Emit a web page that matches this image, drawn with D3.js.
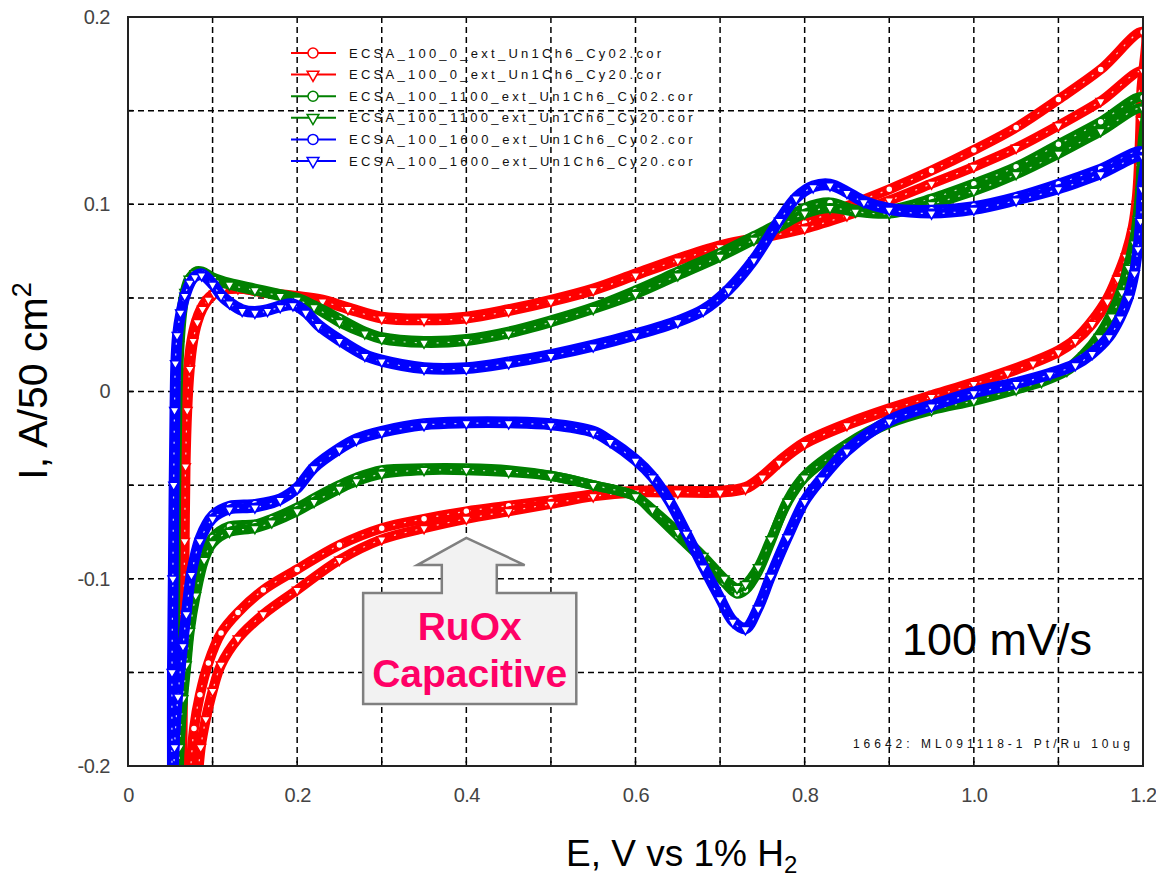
<!DOCTYPE html>
<html><head><meta charset="utf-8">
<script src="https://cdn.jsdelivr.net/npm/d3@7"></script>
<style>body{margin:0;background:#fff} text{font-family:Arial,"Liberation Sans",sans-serif}</style>
</head><body><svg id="c" width="1156" height="881"></svg>
<script>
// ---------- DATA ----------
const xTicks=[0,0.2,0.4,0.6,0.8,1.0,1.2];
const xTickLabels=["0","0.2","0.4","0.6","0.8","1.0","1.2"];
const yTicks=[0.2,0.1,0,-0.1,-0.2];
const yTickLabels=["0.2","0.1","0","-0.1","-0.2"];
const xGrid=[0.1,0.2,0.3,0.4,0.5,0.6,0.7,0.8,0.9,1.0,1.1];
const yGrid=[0.15,0.1,0.05,0,-0.05,-0.1,-0.15];
const seriesNames=["ECSA_100_0_ext_Un1Ch6_Cy02.cor","ECSA_100_0_ext_Un1Ch6_Cy20.cor",
 "ECSA_100_1100_ext_Un1Ch6_Cy02.cor","ECSA_100_1100_ext_Un1Ch6_Cy20.cor",
 "ECSA_100_1600_ext_Un1Ch6_Cy02.cor","ECSA_100_1600_ext_Un1Ch6_Cy20.cor"];
const seriesColors=["#ff0000","#ff0000","#008000","#008000","#0000ff","#0000ff"];
const seriesMarkers=["circle","triangle","circle","triangle","circle","triangle"];

// [E (V), I (A/50 cm2)] anodic sweep followed by cathodic sweep
const red0Cy02=[[0.062,-0.21],[0.063,-0.16],[0.064,-0.12],[0.065,-0.08],[0.066,-0.04],[0.068,-0.01],[0.071,0.012],[0.075,0.027],[0.08,0.037],[0.086,0.044],[0.093,0.049],[0.1,0.052],[0.11,0.054],[0.13,0.055],[0.16,0.053],[0.2,0.051],[0.23,0.049],[0.26,0.045],[0.3,0.04],[0.35,0.039],[0.4,0.04],[0.45,0.044],[0.5,0.049],[0.55,0.055],[0.6,0.063],[0.65,0.071],[0.7,0.078],[0.75,0.083],[0.8,0.09],[0.85,0.099],[0.9,0.108],[0.95,0.118],[1.0,0.129],[1.05,0.141],[1.1,0.156],[1.15,0.172],[1.2,0.192],
 [1.198,0.16],[1.196,0.13],[1.193,0.105],[1.188,0.088],[1.18,0.074],[1.17,0.062],[1.158,0.05],[1.14,0.038],[1.12,0.028],[1.1,0.022],[1.07,0.016],[1.04,0.011],[1.0,0.005],[0.95,-0.002],[0.9,-0.009],[0.85,-0.017],[0.8,-0.027],[0.77,-0.037],[0.75,-0.045],[0.73,-0.051],[0.7,-0.053],[0.65,-0.053],[0.6,-0.053],[0.55,-0.055],[0.5,-0.058],[0.45,-0.061],[0.4,-0.064],[0.35,-0.068],[0.3,-0.073],[0.25,-0.082],[0.2,-0.095],[0.16,-0.106],[0.13,-0.118],[0.11,-0.129],[0.095,-0.145],[0.085,-0.162],[0.078,-0.18],[0.073,-0.21]];
const red0Cy20=[[0.064,-0.21],[0.065,-0.16],[0.066,-0.12],[0.067,-0.08],[0.068,-0.04],[0.07,-0.01],[0.073,0.012],[0.077,0.027],[0.082,0.037],[0.088,0.044],[0.095,0.049],[0.102,0.052],[0.112,0.054],[0.13,0.055],[0.16,0.053],[0.2,0.05],[0.23,0.048],[0.26,0.044],[0.3,0.039],[0.35,0.038],[0.4,0.039],[0.45,0.043],[0.5,0.048],[0.55,0.054],[0.6,0.062],[0.65,0.07],[0.7,0.077],[0.75,0.082],[0.8,0.087],[0.85,0.094],[0.9,0.102],[0.95,0.111],[1.0,0.12],[1.05,0.13],[1.1,0.142],[1.15,0.155],[1.2,0.171],
 [1.198,0.145],[1.196,0.12],[1.193,0.1],[1.188,0.085],[1.18,0.072],[1.17,0.06],[1.158,0.048],[1.14,0.036],[1.12,0.027],[1.1,0.021],[1.07,0.015],[1.04,0.01],[1.0,0.004],[0.95,-0.003],[0.9,-0.01],[0.85,-0.018],[0.8,-0.028],[0.77,-0.038],[0.75,-0.046],[0.73,-0.052],[0.7,-0.054],[0.65,-0.054],[0.6,-0.054],[0.55,-0.056],[0.5,-0.06],[0.45,-0.064],[0.4,-0.068],[0.35,-0.073],[0.3,-0.079],[0.25,-0.09],[0.2,-0.106],[0.16,-0.119],[0.13,-0.132],[0.11,-0.146],[0.1,-0.16],[0.092,-0.175],[0.086,-0.19],[0.082,-0.21]];
const g1100Cy02=[[0.055,-0.21],[0.055,-0.15],[0.056,-0.1],[0.057,-0.05],[0.058,-0.02],[0.059,0.005],[0.061,0.025],[0.064,0.042],[0.068,0.053],[0.073,0.06],[0.08,0.064],[0.088,0.064],[0.1,0.061],[0.12,0.058],[0.15,0.055],[0.18,0.052],[0.2,0.05],[0.22,0.046],[0.25,0.039],[0.28,0.032],[0.3,0.029],[0.35,0.027],[0.4,0.028],[0.45,0.032],[0.5,0.038],[0.55,0.045],[0.6,0.054],[0.65,0.064],[0.7,0.074],[0.74,0.083],[0.77,0.09],[0.8,0.098],[0.83,0.101],[0.86,0.097],[0.9,0.097],[0.95,0.103],[1.0,0.111],[1.05,0.12],[1.1,0.132],[1.15,0.144],[1.2,0.157],
 [1.199,0.13],[1.197,0.11],[1.194,0.095],[1.19,0.082],[1.183,0.068],[1.175,0.055],[1.163,0.042],[1.148,0.03],[1.13,0.02],[1.11,0.012],[1.08,0.006],[1.05,0.002],[1.0,-0.004],[0.95,-0.009],[0.9,-0.016],[0.85,-0.028],[0.8,-0.045],[0.78,-0.058],[0.76,-0.08],[0.745,-0.096],[0.73,-0.106],[0.72,-0.108],[0.705,-0.102],[0.68,-0.09],[0.65,-0.077],[0.62,-0.064],[0.6,-0.056],[0.55,-0.05],[0.5,-0.045],[0.45,-0.042],[0.4,-0.041],[0.35,-0.041],[0.3,-0.042],[0.27,-0.046],[0.25,-0.05],[0.22,-0.057],[0.2,-0.062],[0.17,-0.068],[0.15,-0.071],[0.12,-0.072],[0.1,-0.078],[0.09,-0.087],[0.08,-0.106],[0.073,-0.125],[0.069,-0.143],[0.065,-0.161],[0.061,-0.188],[0.059,-0.21]];
const g1100Cy20=[[0.054,-0.21],[0.054,-0.15],[0.055,-0.1],[0.056,-0.05],[0.057,-0.02],[0.058,0.005],[0.06,0.025],[0.063,0.042],[0.067,0.053],[0.072,0.06],[0.079,0.063],[0.087,0.063],[0.1,0.06],[0.12,0.057],[0.15,0.054],[0.18,0.051],[0.2,0.049],[0.22,0.045],[0.25,0.037],[0.28,0.031],[0.3,0.028],[0.35,0.026],[0.4,0.027],[0.45,0.031],[0.5,0.037],[0.55,0.044],[0.6,0.052],[0.65,0.062],[0.7,0.072],[0.74,0.081],[0.77,0.088],[0.8,0.095],[0.83,0.098],[0.86,0.096],[0.9,0.095],[0.95,0.1],[1.0,0.107],[1.05,0.116],[1.1,0.127],[1.15,0.139],[1.2,0.151],
 [1.199,0.125],[1.197,0.106],[1.194,0.092],[1.19,0.079],[1.183,0.066],[1.175,0.053],[1.163,0.04],[1.148,0.029],[1.13,0.019],[1.11,0.011],[1.08,0.005],[1.05,0.001],[1.0,-0.005],[0.95,-0.01],[0.9,-0.017],[0.85,-0.029],[0.8,-0.046],[0.78,-0.059],[0.76,-0.079],[0.745,-0.094],[0.73,-0.103],[0.72,-0.105],[0.705,-0.1],[0.68,-0.088],[0.65,-0.075],[0.62,-0.063],[0.6,-0.056],[0.55,-0.05],[0.5,-0.045],[0.45,-0.043],[0.4,-0.042],[0.35,-0.042],[0.3,-0.044],[0.27,-0.048],[0.25,-0.052],[0.22,-0.059],[0.2,-0.064],[0.17,-0.07],[0.15,-0.073],[0.12,-0.075],[0.1,-0.081],[0.09,-0.09],[0.08,-0.109],[0.073,-0.128],[0.069,-0.146],[0.065,-0.164],[0.061,-0.19],[0.06,-0.21]];
const b1600Cy02=[[0.053,-0.21],[0.053,-0.15],[0.054,-0.1],[0.055,-0.05],[0.056,-0.01],[0.057,0.015],[0.059,0.03],[0.063,0.042],[0.068,0.051],[0.074,0.058],[0.08,0.062],[0.088,0.063],[0.1,0.058],[0.11,0.052],[0.12,0.048],[0.135,0.044],[0.15,0.043],[0.165,0.044],[0.18,0.046],[0.195,0.047],[0.21,0.043],[0.225,0.036],[0.25,0.028],[0.28,0.02],[0.3,0.017],[0.35,0.013],[0.4,0.013],[0.45,0.016],[0.5,0.02],[0.55,0.025],[0.6,0.031],[0.65,0.038],[0.68,0.044],[0.71,0.055],[0.74,0.071],[0.77,0.092],[0.79,0.104],[0.81,0.11],[0.83,0.111],[0.85,0.107],[0.87,0.102],[0.9,0.098],[0.95,0.097],[1.0,0.099],[1.05,0.104],[1.1,0.111],[1.15,0.119],[1.2,0.128],
 [1.199,0.11],[1.197,0.093],[1.194,0.078],[1.19,0.065],[1.183,0.052],[1.173,0.04],[1.16,0.03],[1.14,0.021],[1.12,0.015],[1.09,0.01],[1.05,0.005],[1.0,0.0],[0.95,-0.007],[0.9,-0.015],[0.85,-0.031],[0.82,-0.046],[0.8,-0.058],[0.78,-0.077],[0.76,-0.098],[0.745,-0.115],[0.73,-0.126],[0.715,-0.122],[0.7,-0.11],[0.68,-0.093],[0.66,-0.075],[0.64,-0.058],[0.62,-0.045],[0.6,-0.036],[0.57,-0.026],[0.55,-0.021],[0.5,-0.017],[0.45,-0.016],[0.4,-0.016],[0.35,-0.017],[0.3,-0.021],[0.27,-0.025],[0.25,-0.03],[0.22,-0.04],[0.2,-0.051],[0.18,-0.057],[0.15,-0.06],[0.12,-0.061],[0.1,-0.066],[0.085,-0.078],[0.075,-0.096],[0.069,-0.117],[0.065,-0.134],[0.059,-0.161],[0.055,-0.188],[0.054,-0.21]];
const b1600Cy20=[[0.052,-0.21],[0.052,-0.15],[0.053,-0.1],[0.054,-0.05],[0.055,-0.01],[0.056,0.015],[0.058,0.03],[0.062,0.042],[0.067,0.051],[0.073,0.058],[0.079,0.061],[0.087,0.062],[0.1,0.057],[0.11,0.051],[0.12,0.047],[0.135,0.043],[0.15,0.042],[0.165,0.043],[0.18,0.045],[0.195,0.046],[0.21,0.042],[0.225,0.035],[0.25,0.027],[0.28,0.019],[0.3,0.016],[0.35,0.012],[0.4,0.012],[0.45,0.015],[0.5,0.019],[0.55,0.024],[0.6,0.03],[0.65,0.037],[0.68,0.043],[0.71,0.054],[0.74,0.07],[0.77,0.091],[0.79,0.103],[0.81,0.109],[0.83,0.11],[0.85,0.106],[0.87,0.101],[0.9,0.097],[0.95,0.095],[1.0,0.097],[1.05,0.102],[1.1,0.108],[1.15,0.116],[1.2,0.125],
 [1.199,0.108],[1.197,0.091],[1.194,0.076],[1.19,0.063],[1.183,0.05],[1.173,0.039],[1.16,0.029],[1.14,0.02],[1.12,0.014],[1.09,0.009],[1.05,0.004],[1.0,-0.001],[0.95,-0.008],[0.9,-0.016],[0.85,-0.032],[0.82,-0.047],[0.8,-0.059],[0.78,-0.078],[0.76,-0.099],[0.745,-0.116],[0.73,-0.127],[0.715,-0.123],[0.7,-0.111],[0.68,-0.094],[0.66,-0.076],[0.64,-0.059],[0.62,-0.046],[0.6,-0.037],[0.57,-0.027],[0.55,-0.022],[0.5,-0.018],[0.45,-0.017],[0.4,-0.017],[0.35,-0.018],[0.3,-0.022],[0.27,-0.026],[0.25,-0.031],[0.22,-0.041],[0.2,-0.052],[0.18,-0.058],[0.15,-0.062],[0.12,-0.063],[0.1,-0.068],[0.085,-0.08],[0.075,-0.098],[0.069,-0.119],[0.065,-0.136],[0.059,-0.163],[0.055,-0.19],[0.054,-0.21]];
const seriesData=[red0Cy02,red0Cy20,g1100Cy02,g1100Cy20,b1600Cy02,b1600Cy20];

// annotations (data units)
const calloutBoxE=[0.278,0.530], calloutBoxI=[-0.1076,-0.1669];
const calloutStemE=[0.371,0.436], calloutHeadE=[0.342,0.469], calloutHeadI=-0.0927, calloutTip=[0.4,-0.0782];
const calloutLines=["RuOx","Capacitive"];
const rateLabel="100 mV/s", rateAt=[0.915,-0.1407];
const sampleLabel="16642: ML091118-1  Pt/Ru 10ug", sampleAt=[0.857,-0.1904];

// ---------- DRAW ----------
const svg=d3.select("#c");
const L=128,R=1143,T=17,B=766;
const x=d3.scaleLinear().domain([0,1.2]).range([L,R]);
const y=d3.scaleLinear().domain([-0.2,0.2]).range([B,T]);

svg.append("defs").append("clipPath").attr("id","clip").append("rect")
  .attr("x",L).attr("y",T).attr("width",R-L).attr("height",B-T);

const grid=svg.append("g").attr("stroke","#000").attr("stroke-width",1.5).attr("stroke-dasharray","6,4");
grid.selectAll(".vx").data(xGrid).join("line").attr("x1",d=>x(d)).attr("x2",d=>x(d)).attr("y1",T).attr("y2",B);
grid.selectAll(".hy").data(yGrid).join("line").attr("y1",d=>y(d)).attr("y2",d=>y(d)).attr("x1",L).attr("x2",R);

// axes (d3 axes, styled)
const xAxis=svg.append("g").attr("transform",`translate(0,${B})`)
  .call(d3.axisBottom(x).tickValues(xTicks).tickFormat((d,i)=>xTickLabels[i]).tickSize(0).tickPadding(22));
const yAxis=svg.append("g").attr("transform",`translate(${L},0)`)
  .call(d3.axisLeft(y).tickValues(yTicks).tickFormat((d,i)=>yTickLabels[i]).tickSize(0).tickPadding(18));
[xAxis,yAxis].forEach(a=>{a.select(".domain").remove();a.selectAll("text").attr("font-size",20).attr("letter-spacing",-0.5).attr("fill","#444").attr("font-family","Arial, Liberation Sans, sans-serif");});

// inward small ticks
const tk=svg.append("g").attr("stroke","#000").attr("stroke-width",1.5);
tk.selectAll(".t").data(yGrid).join("line").attr("x1",L).attr("x2",L+5).attr("y1",d=>y(d)).attr("y2",d=>y(d));
tk.selectAll(".tb").data(xGrid).join("line").attr("y1",B).attr("y2",B-5).attr("x1",d=>x(d)).attr("x2",d=>x(d));

// series
const plot=svg.append("g").attr("clip-path","url(#clip)");
const line=d3.line().x(d=>x(d[0])).y(d=>y(d[1])).curve(d3.curveCatmullRom.alpha(0.5));
const tri=d3.symbol().type(d3.symbolTriangle).size(40);
seriesData.forEach((data,i)=>{
  const c=seriesColors[i];
  const g=plot.append("g");
  g.append("path").attr("d",line(data)).attr("fill","none").attr("stroke",c).attr("stroke-width",10).attr("stroke-linejoin","round");
  g.append("path").attr("d",line(data)).attr("fill","none").attr("stroke","#fff").attr("stroke-width",1.2).attr("stroke-dasharray","2,9").attr("opacity",0.8);
  if(seriesMarkers[i]==="circle"){
    g.selectAll("circle").data(data).join("circle").attr("cx",d=>x(d[0])).attr("cy",d=>y(d[1])).attr("r",3.5)
      .attr("fill","#fff").attr("stroke",c).attr("stroke-width",1.5);
  } else {
    g.selectAll("path.m").data(data).join("path").attr("class","m").attr("d",tri)
      .attr("transform",d=>`translate(${x(d[0])},${y(d[1])}) rotate(180)`)
      .attr("fill","#fff").attr("stroke",c).attr("stroke-width",1.5);
  }
});

// frame
svg.append("rect").attr("x",L).attr("y",T).attr("width",R-L).attr("height",B-T)
  .attr("fill","none").attr("stroke","#222").attr("stroke-width",2);

// legend
const lg=svg.append("g");
seriesNames.forEach((n,i)=>{
  const yy=53+i*21.6, c=seriesColors[i];
  lg.append("line").attr("x1",291).attr("x2",336).attr("y1",yy).attr("y2",yy).attr("stroke",c).attr("stroke-width",2);
  if(seriesMarkers[i]==="circle") lg.append("circle").attr("cx",313).attr("cy",yy).attr("r",5).attr("fill","#fff").attr("stroke",c).attr("stroke-width",1.5);
  else lg.append("path").attr("d",d3.symbol().type(d3.symbolTriangle).size(60)).attr("transform",`translate(313,${yy}) rotate(180)`).attr("fill","#fff").attr("stroke",c).attr("stroke-width",1.5);
  lg.append("text").attr("x",349).attr("y",yy+4.5).attr("font-size",13).attr("fill","#111")
    .attr("textLength",n.length*10.5-3).attr("lengthAdjust","spacing").text(n);
});

// callout arrow
const p=d3.path();
p.moveTo(x(calloutBoxE[0]),y(calloutBoxI[0]));
p.lineTo(x(calloutStemE[0]),y(calloutBoxI[0]));
p.lineTo(x(calloutStemE[0]),y(calloutHeadI));
p.lineTo(x(calloutHeadE[0]),y(calloutHeadI));
p.lineTo(x(calloutTip[0]),y(calloutTip[1]));
p.lineTo(x(calloutHeadE[1]),y(calloutHeadI));
p.lineTo(x(calloutStemE[1]),y(calloutHeadI));
p.lineTo(x(calloutStemE[1]),y(calloutBoxI[0]));
p.lineTo(x(calloutBoxE[1]),y(calloutBoxI[0]));
p.lineTo(x(calloutBoxE[1]),y(calloutBoxI[1]));
p.lineTo(x(calloutBoxE[0]),y(calloutBoxI[1]));
p.closePath();
svg.append("path").attr("d",p.toString()).attr("fill","#f2f2f2").attr("stroke","#808080").attr("stroke-width",2.5);
const cx=(x(calloutBoxE[0])+x(calloutBoxE[1]))/2;
calloutLines.forEach((t,i)=>{
  svg.append("text").attr("x",cx).attr("y",y(calloutBoxI[0])+47+i*47).attr("text-anchor","middle")
    .attr("font-size",39).attr("font-weight","bold").attr("fill","#ff0066").text(t);
});

// labels
svg.append("text").attr("x",x(rateAt[0])).attr("y",y(rateAt[1])).attr("font-size",45).attr("fill","#000").text(rateLabel);
svg.append("text").attr("x",x(sampleAt[0])).attr("y",y(sampleAt[1])).attr("font-size",12).attr("fill","#111")
  .attr("textLength",277).attr("lengthAdjust","spacing").text(sampleLabel);

// axis titles
const xt=svg.append("text").attr("x",566).attr("y",866).attr("font-size",37).attr("fill","#000");
xt.append("tspan").text("E, V vs 1% H");
xt.append("tspan").attr("font-size",24).attr("dy",7).text("2");
const yt=svg.append("text").attr("transform","translate(47,381) rotate(-90)").attr("text-anchor","middle").attr("font-size",41).attr("fill","#000");
yt.append("tspan").text("I, A/50 cm");
yt.append("tspan").attr("font-size",27).attr("dy",-16).text("2");
</script></body></html>
